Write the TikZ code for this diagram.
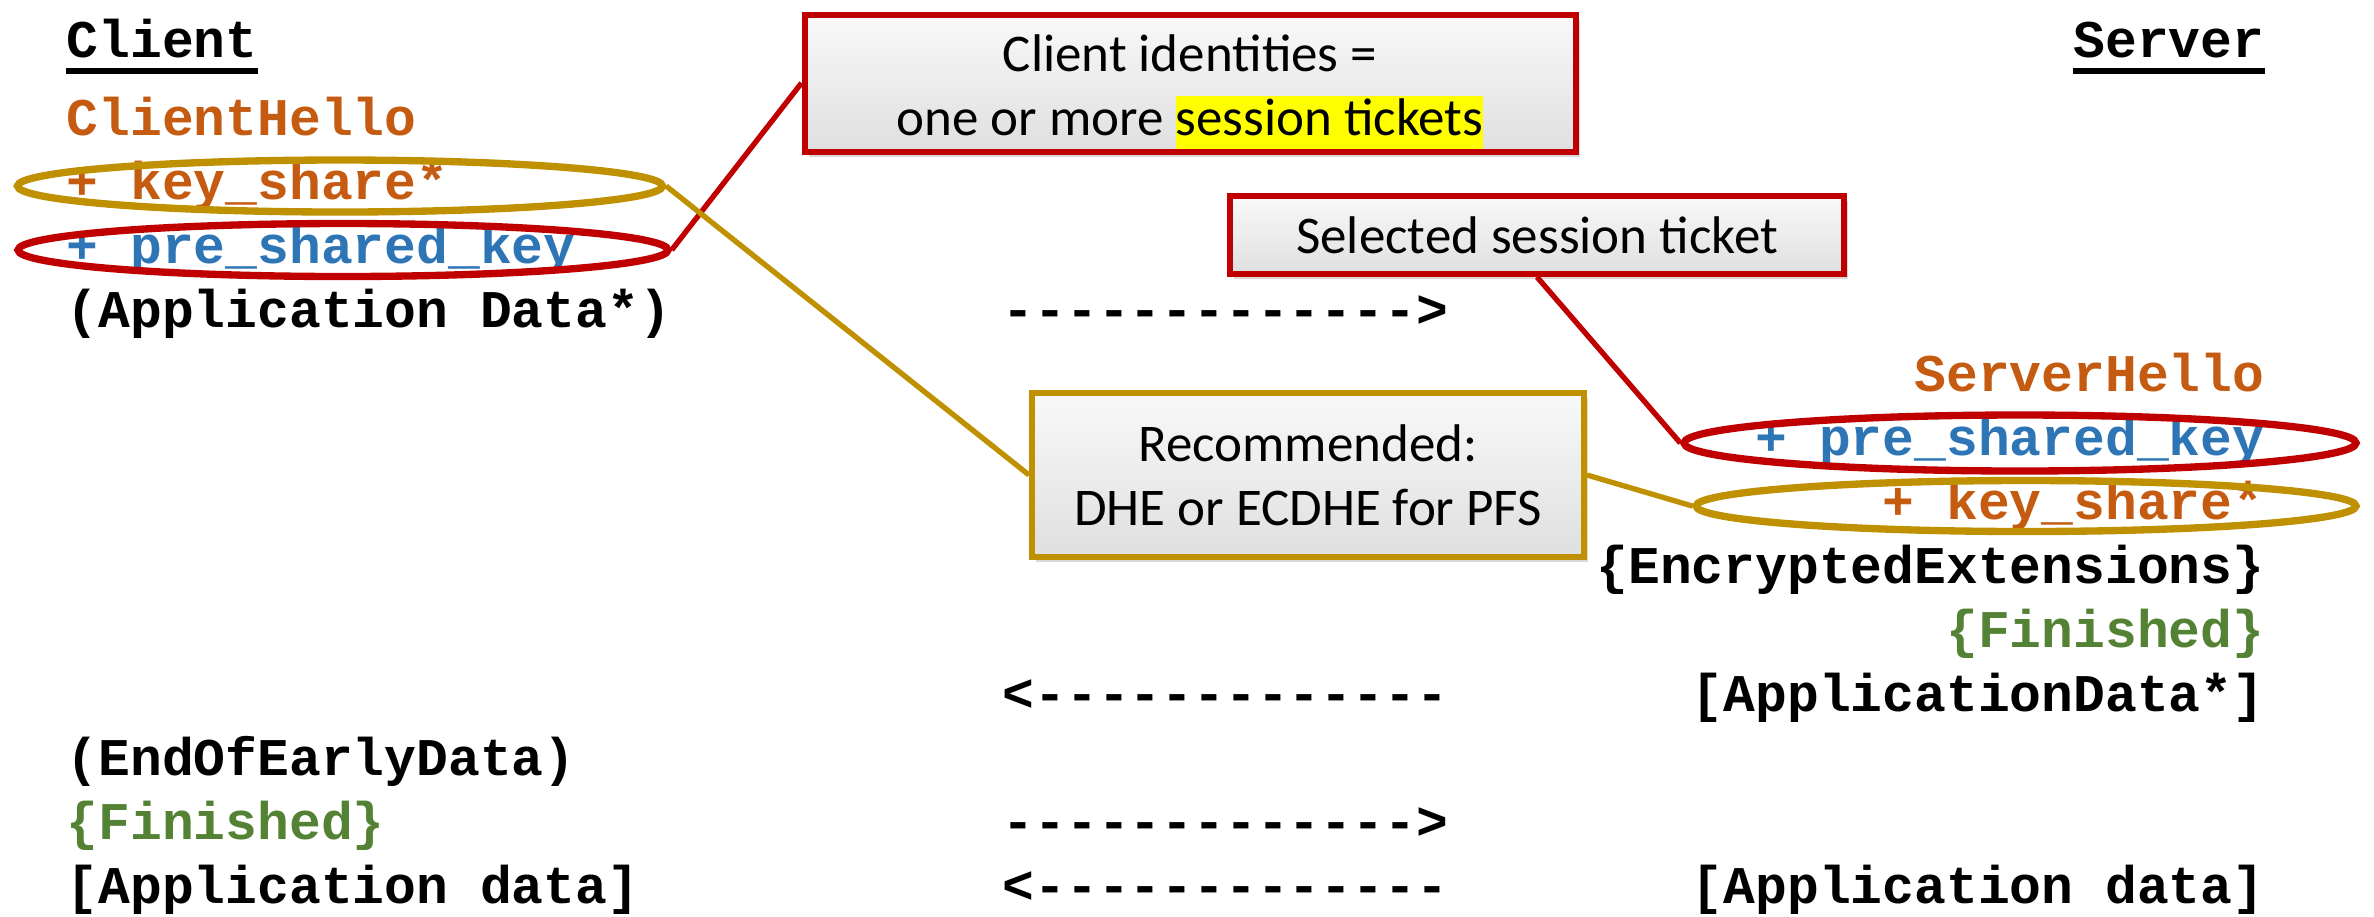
\documentclass[tikz,border=0pt]{standalone}
\usepackage{fontspec}
\setmainfont{Carlito}
\newfontfamily\monofont{Liberation Mono}
\usetikzlibrary{shapes.geometric,shadows,calc}
\definecolor{corange}{HTML}{C55A11}
\definecolor{cblue}{HTML}{2E75B6}
\definecolor{cgreen}{HTML}{548235}
\definecolor{cred}{HTML}{C00000}
\definecolor{cgold}{HTML}{BF9000}
\definecolor{hlyellow}{HTML}{FFFF00}
\newcommand\hlt[1]{{\setlength\fboxsep{0pt}\colorbox{hlyellow}{\rule[-0.25em]{0pt}{1em}#1}}}
\tikzset{
  msg/.style={font=\monofont\bfseries\fontsize{15.9pt}{19.2pt}\selectfont, inner sep=0pt},
  cl/.style={msg, anchor=base west},
  sv/.style={msg, anchor=base east},
  note/.style={draw, line width=1.8pt, top color=gray!5, bottom color=gray!25,
    font=\fontsize{15.9pt}{19.2pt}\selectfont, align=center,
    drop shadow={shadow xshift=1.2pt, shadow yshift=-1.5pt, opacity=0.3}},
  ring/.style={ellipse, draw, line width=2.2pt, inner sep=0pt},
  link/.style={line width=1.6pt},
  uline/.style={line width=1.9pt},
}
\begin{document}
\begin{tikzpicture}[x=0.3pt,y=-0.3pt]
\useasboundingbox (0,0) rectangle (2374,916);
% headers
\node[cl] (client) at (66,57) {Client};
\node[sv] (server) at (2265,57) {Server};
\draw[uline] ($(client.base west)+(0,14)$) -- ($(client.base east)+(0,14)$);
\draw[uline] ($(server.base west)+(0,14)$) -- ($(server.base east)+(0,14)$);
% client side
\node[cl, text=corange] (ch) at (66,135) {ClientHello};
\node[cl, text=corange] (cks) at (66,199) {+ key\_share*};
\node[cl, text=cblue] (cpk) at (66,263) {+ pre\_shared\_key};
\node[cl] (cad) at (66,327) {(Application Data*)};
\node[cl] (eoed) at (66,775) {(EndOfEarlyData)};
\node[cl, text=cgreen] (cfin) at (66,839) {\{Finished\}};
\node[cl] (cappd) at (66,903) {[Application data]};
% arrows
\node[cl] (a1) at (1002,327) {------------->};
\node[cl] (a2) at (1002,711) {<-------------};
\node[cl] (a3) at (1002,839) {------------->};
\node[cl] (a4) at (1002,903) {<-------------};
% server side
\node[sv, text=corange] (sh) at (2265,391) {ServerHello};
\node[sv, text=cblue] (spk) at (2265,455) {+ pre\_shared\_key};
\node[sv, text=corange] (sks) at (2265,519) {+ key\_share*};
\node[sv] (ee) at (2265,583) {\{EncryptedExtensions\}};
\node[sv, text=cgreen] (sfin) at (2265,647) {\{Finished\}};
\node[sv] (sad) at (2265,711) {[ApplicationData*]};
\node[sv] (sappd) at (2265,903) {[Application data]};
% ellipses
\node[ring, draw=cgold, minimum width=0.3pt*645, minimum height=0.3pt*52] (eck) at (340,186) {};
\node[ring, draw=cred, minimum width=0.3pt*650, minimum height=0.3pt*53] (ecp) at (343,250) {};
\node[ring, draw=cred, minimum width=0.3pt*672, minimum height=0.3pt*56] (esp) at (2020,443) {};
\node[ring, draw=cgold, minimum width=0.3pt*660, minimum height=0.3pt*51] (esk) at (2026,506) {};
% notes
\node[note, draw=cred, inner ysep=0pt, minimum width=0.3pt*771, minimum height=0.3pt*137] (ids) at (1190,83)
  {\rule{0pt}{16.5pt}Client identities =\\one or more \hlt{session tickets}};
\node[note, draw=cred, minimum width=0.3pt*614, minimum height=0.3pt*78] (sel) at (1537,235)
  {Selected session ticket};
\node[note, draw=cgold, minimum width=0.3pt*552, minimum height=0.3pt*164] (rec) at (1308,475)
  {Recommended:\\DHE or ECDHE for PFS};
% connectors
\draw[link, cred] (ecp.east) -- (ids.west);
\draw[link, cgold] (eck.east) -- (rec.west);
\draw[link, cred] (sel.south) -- (esp.west);
\draw[link, cgold] (rec.east) -- (esk.west);
\end{tikzpicture}
\end{document}
